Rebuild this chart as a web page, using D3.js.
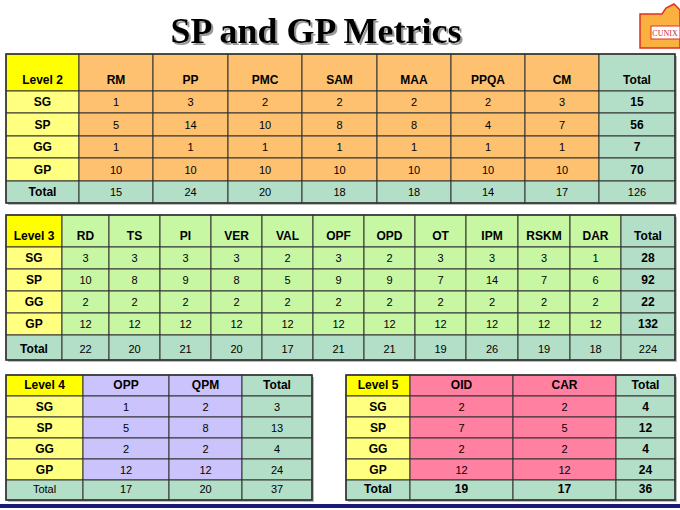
<!DOCTYPE html>
<html><head><meta charset="utf-8">
<script src="https://cdn.jsdelivr.net/npm/d3@7"></script>
<style>body{margin:0;background:#fff}</style></head>
<body><svg id="c" width="680" height="510"></svg>
<script>
const rowLabels = ["SG","SP","GG","GP"];
const l2Cols = ["RM","PP","PMC","SAM","MAA","PPQA","CM"];
const l2Vals = [[1,3,2,2,2,2,3],[5,14,10,8,8,4,7],[1,1,1,1,1,1,1],[10,10,10,10,10,10,10]];
const l2RowTot = [15,56,7,70];
const l2ColTot = [15,24,20,18,18,14,17,126];
const l3Cols = ["RD","TS","PI","VER","VAL","OPF","OPD","OT","IPM","RSKM","DAR"];
const l3Vals = [[3,3,3,3,2,3,2,3,3,3,1],[10,8,9,8,5,9,9,7,14,7,6],[2,2,2,2,2,2,2,2,2,2,2],[12,12,12,12,12,12,12,12,12,12,12]];
const l3RowTot = [28,92,22,132];
const l3ColTot = [22,20,21,20,17,21,21,19,26,19,18,224];
const l4Cols = ["OPP","QPM"];
const l4Vals = [[1,2],[5,8],[2,2],[12,12]];
const l4RowTot = [3,13,4,24];
const l4ColTot = [17,20,37];
const l5Cols = ["OID","CAR"];
const l5Vals = [[2,2],[7,5],[2,2],[12,12]];
const l5RowTot = [4,12,4,24];
const l5ColTot = [19,17,36];

const svg = d3.select("#c");
const F = "Liberation Sans, Arial, sans-serif";
const YEL="#ffff00", LYEL="#ffff80", GRN="#b3dec8";

const flt = svg.append("defs").append("filter").attr("id","sh").attr("x","-5%").attr("y","-20%").attr("width","115%").attr("height","150%");
flt.append("feDropShadow").attr("dx",2).attr("dy",2).attr("stdDeviation",0.6).attr("flood-color","#999");
svg.append("text").attr("x",316).attr("y",43).attr("text-anchor","middle")
  .attr("font-family","Liberation Serif, Times New Roman, serif").attr("font-weight","bold")
  .attr("font-size",36).attr("fill","#000").attr("filter","url(#sh)").text("SP and GP Metrics");

// logo
const lg = svg.append("g");
lg.append("path").attr("d","M640,14 L662,14 L666,8 L674,4 L680,10 L680,48 L640,48 Z").attr("fill","#fbb040").attr("stroke","#e03020").attr("stroke-width",1.5);
lg.append("rect").attr("x",651).attr("y",26).attr("width",29).attr("height",13).attr("fill","#fff").attr("stroke","#e03020");
lg.append("text").attr("x",665).attr("y",36).attr("text-anchor","middle").attr("font-size",8).attr("font-family","Liberation Serif, serif").attr("fill","#d02020").text("CUNIX");

function table(o){
  const cols=[o.level,...o.cols,"Total"];
  const x=d3.scaleOrdinal().domain(d3.range(cols.length)).range(o.xs);
  const nRows=6;
  const y=d3.scaleOrdinal().domain(d3.range(nRows)).range(o.ys);
  const g=svg.append("g");
  g.append("rect").attr("x",o.xs[0]+2).attr("y",o.ys[0]+2).attr("width",o.xs[cols.length]-o.xs[0]).attr("height",o.ys[nRows]-o.ys[0]).attr("fill","#bbb");
  for(let r=0;r<nRows;r++){
    for(let c=0;c<cols.length;c++){
      let fill, txt, bold=false;
      if(r===0){ txt=cols[c]; bold=true; fill = c===0?YEL:(c===cols.length-1?GRN:o.color); }
      else if(r<=4){
        if(c===0){txt=rowLabels[r-1];bold=true;fill=LYEL;}
        else if(c===cols.length-1){txt=o.rowTot[r-1];bold=o.totColBold;fill=GRN;}
        else {txt=o.vals[r-1][c-1];fill=o.color;}
      } else {
        fill=GRN;
        if(c===0){txt="Total";bold=o.totLabelBold;}
        else {txt=o.colTot[c-1];bold=o.totRowBold;}
      }
      const x0=x(c),x1=x(c+1),y0=y(r),y1=y(r+1);
      g.append("rect").attr("x",x0).attr("y",y0).attr("width",x1-x0).attr("height",y1-y0)
        .attr("fill",fill).attr("stroke","#333").attr("stroke-width",1);
      const ty = (r===0||r===5)? y1-o.headPad : (y0+y1)/2+4;
      g.append("text").attr("x",(x0+x1)/2).attr("y",ty).attr("text-anchor","middle")
        .attr("font-family",F).attr("font-size", bold?12:11).attr("font-weight",bold?"bold":"normal").text(txt);
    }
  }
  g.append("rect").attr("x",o.xs[0]).attr("y",o.ys[0]).attr("width",o.xs[cols.length]-o.xs[0]).attr("height",o.ys[nRows]-o.ys[0])
    .attr("fill","none").attr("stroke","#333").attr("stroke-width",1.5);
}

table({level:"Level 2",cols:l2Cols,vals:l2Vals,rowTot:l2RowTot,colTot:l2ColTot,color:"#fdc170",
  xs:[6,79,153,228,302,377,451,525,599,675],ys:[54,91,113,136,158,181,203],headPad:7,
  totColBold:true,totRowBold:false,totLabelBold:true});
table({level:"Level 3",cols:l3Cols,vals:l3Vals,rowTot:l3RowTot,colTot:l3ColTot,color:"#c8f7a4",
  xs:[6,62,109,160,211,262,313,364,415,466,518,570,621,675],ys:[215,247,269,291,313,335,360],headPad:7,
  totColBold:true,totRowBold:false,totLabelBold:true});
table({level:"Level 4",cols:l4Cols,vals:l4Vals,rowTot:l4RowTot,colTot:l4ColTot,color:"#cbc4fc",
  xs:[6,83,169,242,312],ys:[375,396,417,438,459,480,500],headPad:7,
  totColBold:false,totRowBold:false,totLabelBold:false});
table({level:"Level 5",cols:l5Cols,vals:l5Vals,rowTot:l5RowTot,colTot:l5ColTot,color:"#ff80a0",
  xs:[346,410,513,616,675],ys:[375,396,417,438,459,480,500],headPad:7,
  totColBold:true,totRowBold:true,totLabelBold:true});

svg.append("rect").attr("x",0).attr("y",504).attr("width",680).attr("height",4).attr("fill","#1a1a7a");
</script></body></html>
